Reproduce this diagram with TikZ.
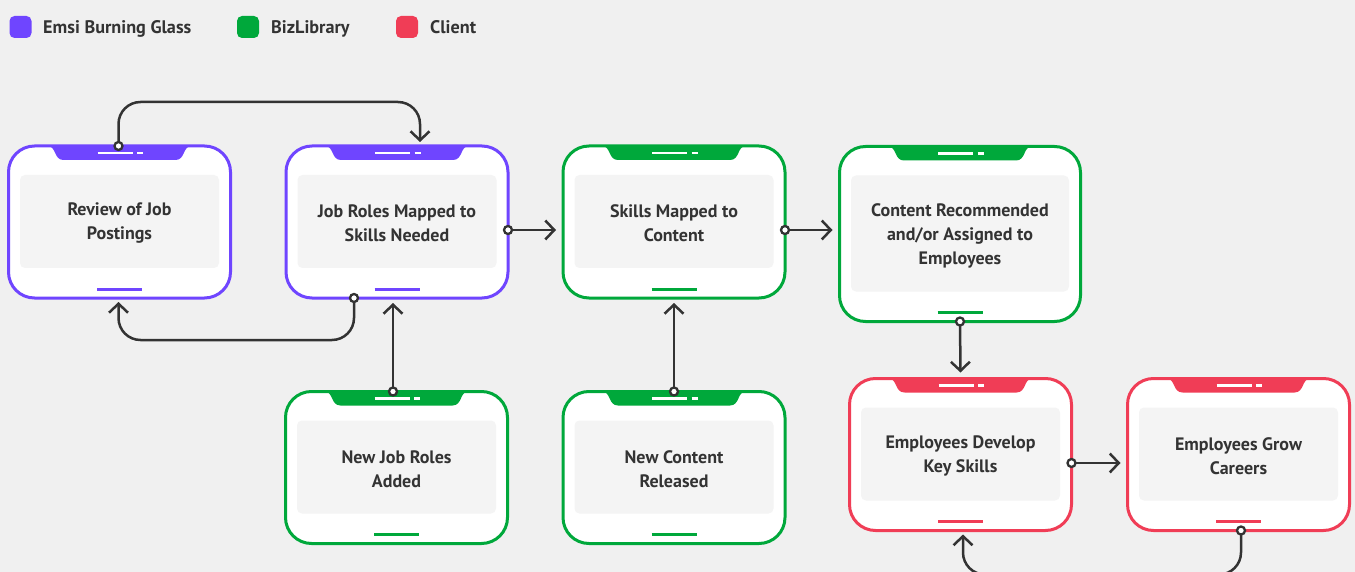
\documentclass[tikz,border=0pt]{standalone}
\usepackage{fontspec}
\setmainfont{PT Sans}
\usetikzlibrary{arrows.meta,calc}
\definecolor{bgc}{HTML}{F0F0F0}
\definecolor{innergray}{HTML}{F4F4F4}
\definecolor{cpurple}{HTML}{6F45FF}
\definecolor{cgreen}{HTML}{00A83B}
\definecolor{cred}{HTML}{F03D56}
\definecolor{ink}{HTML}{333333}
\newcommand\flowbox[7]{%
  \node[fbox, draw=#6, minimum width=#4, minimum height=#5] (#1) at (#2,#3) {};
  \fill[#6] ($(#1.north)+(-72,0)$) .. controls ($(#1.north)+(-63,0)$) and ($(#1.north)+(-66,14)$) .. ($(#1.north)+(-56,14)$) -- ($(#1.north)+(56,14)$) .. controls ($(#1.north)+(66,14)$) and ($(#1.north)+(63,0)$) .. ($(#1.north)+(72,0)$) -- cycle;
  \draw[white, line width=2.2] ($(#1.north)+(-22,7)$) -- ++(35,0);
  \draw[white, line width=2.2] ($(#1.north)+(17.5,7)$) -- ++(6,0);
  \fill[innergray, rounded corners=5] ($(#1.north west)+(11.5,29)$) rectangle ($(#1.south east)+(-11.5,-30)$);
  \draw[#6, line width=3] ($(#1.south)+(-22.5,-9)$) -- ++(45,0);
  \node[ftext] (#1t) at ($(#1.center)+(0,1.5)$) {#7};
}
\begin{document}
\begin{tikzpicture}[x=1pt,y=-1pt,
  fbox/.style={rectangle, rounded corners=26, line width=3, fill=white, inner sep=0, outer sep=0},
  ftext/.style={font=\bfseries\fontsize{18}{24}\selectfont, text=ink, align=center},
  legsq/.style={rectangle, rounded corners=5, minimum size=22, inner sep=0},
  legtxt/.style={font=\bfseries\fontsize{18.2}{20}\selectfont, text=ink, anchor=base west, inner sep=0},
  conn/.style={draw=ink, line width=2.5, -{Straight Barb[length=9,width=19]}},
  dotst/.style={draw=ink, line width=2.3, fill=white}]
\fill[bgc] (0,0) rectangle (1355,572);
\useasboundingbox (0,0) rectangle (1355,572);
% legend
\node[legsq, fill=cpurple] (l1) at (20.5,27) {};
\node[legtxt] (l1t) at (43,33.5) {Emsi Burning Glass};
\node[legsq, fill=cgreen] (l2) at (248,27) {};
\node[legtxt] (l2t) at (271,33.5) {BizLibrary};
\node[legsq, fill=cred] (l3) at (407,27) {};
\node[legtxt] (l3t) at (430,33.5) {Client};
% boxes
\flowbox{b1}{119.5}{222}{222}{152}{cpurple}{Review of Job\\Postings}
\flowbox{b2}{397}{222}{222}{152}{cpurple}{Job Roles Mapped to\\Skills Needed}
\flowbox{b3}{674}{222}{222}{152}{cgreen}{Skills Mapped to\\Content}
\flowbox{b4}{960}{234}{241}{175}{cgreen}{Content Recommended\\and/or Assigned to\\Employees}
\flowbox{b5}{396.5}{467.5}{222}{152}{cgreen}{New Job Roles\\Added}
\flowbox{b6}{674}{467.5}{222}{152}{cgreen}{New Content\\Released}
\flowbox{b7}{960.5}{454.5}{222}{152}{cred}{Employees Develop\\Key Skills}
\flowbox{b8}{1238.5}{454.5}{222}{152}{cred}{Employees Grow\\Careers}
% connector start points
\coordinate (s1) at ($(b1.north)+(-1,0)$);
\coordinate (s2) at ($(b2.south)+(-43,0)$);
\coordinate (s3) at ($(b5.north)+(-3.5,0)$);
\coordinate (s4) at ($(b2.east)+(0,8)$);
\coordinate (s5) at ($(b3.east)+(0,8)$);
\coordinate (s6) at (b6.north);
\coordinate (s7) at (b4.south);
\coordinate (s8) at ($(b7.east)+(0,8.5)$);
\coordinate (s9) at ($(b8.south)+(2.5,0)$);
% connectors
\draw[conn, rounded corners=22] (s1) |- ($(b2.north)+(23,-44)$) -- ($(b2.north)+(23,-4)$);
\draw[conn, rounded corners=22] (s2) |- ($(b1.south)+(-1,42)$) -- ($(b1.south)+(-1,4)$);
\draw[conn] (s3) -- ($(b2.south)+(-4,5)$);
\draw[conn] (s4) -- ($(b3.west)+(-7,8)$);
\draw[conn] (s5) -- ($(b4.west)+(-7,-4)$);
\draw[conn] (s6) -- ($(b3.south)+(0,5)$);
\draw[conn] (s7) -- ($(b7.north)+(0,-6)$);
\draw[conn] (s8) -- ($(b8.west)+(-7,8.5)$);
\draw[conn, rounded corners=22] (s9) |- ($(b7.south)+(2.5,44)$) -- ($(b7.south)+(2.5,4)$);
% connector start dots
\foreach \s in {s1,s2,s3,s4,s5,s6,s7,s8,s9} \draw[dotst] (\s) circle (4);
\end{tikzpicture}
\end{document}
